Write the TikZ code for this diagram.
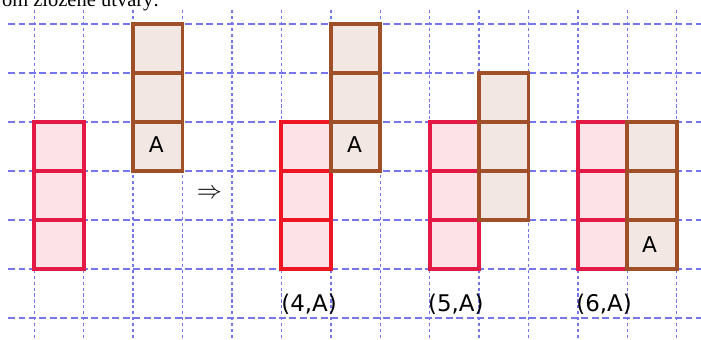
\documentclass[tikz,border=0pt]{standalone}
\usepackage{fontspec}
\setmainfont{Liberation Serif}
\newfontfamily\gridsans{DejaVu Sans}
\usepackage{xcolor}
\usepackage{tikz}
\usetikzlibrary{positioning}
\definecolor{GridBlue}{RGB}{118,118,236}
\definecolor{CellRed}{RGB}{228,26,70}
\definecolor{CellRedB}{RGB}{238,22,34}
\definecolor{CellPink}{RGB}{253,226,231}
\definecolor{CellBrown}{RGB}{160,80,40}
\definecolor{CellBeige}{RGB}{243,231,227}

\begin{document}
\begin{tikzpicture}[x=1cm, y=0.9915cm,
      hline/.style={GridBlue, line width=0.8pt, dash pattern=on 4pt off 2pt},
      vline/.style={GridBlue, line width=0.8pt, dash pattern=on 1.8pt off 1.6pt},
      redcell/.style={draw=CellRed, fill=CellPink, line width=2.2pt},
      brncell/.style={draw=CellBrown, fill=CellBeige, line width=2.2pt},
      cellmark/.style={font=\gridsans\fontsize{12.5}{14}\selectfont, inner sep=0pt},
      caption/.style={font=\gridsans\fontsize{13.2}{15}\selectfont, inner sep=0pt}
    ]
    \useasboundingbox (-0.694,-6.429) rectangle (13.49,0.49);
    \clip (-0.694,-6.429) rectangle (13.49,0.49);
    \fill[white] (-0.694,-6.429) rectangle (13.49,0.49);

    % cut-off heading
    \node[anchor=base west, inner sep=0pt, font=\fontsize{11.8}{13}\selectfont]
          (head) at (-0.66,0.35) {om zložené útvary:};

    % dashed grid
    \foreach \r in {0,...,6}
      \draw[hline] (-0.53,-\r) -- (13.6,-\r);
    \foreach \c in {0,...,13}
      \draw[vline] (\c,0.286) -- (\c,-6.5);

    % first pair
    \foreach \r in {2,3,4}
      \draw[redcell] (0,-\r) rectangle ++(1,-1);
    \foreach \r in {0,1,2}
      \draw[brncell] (2,-\r) rectangle ++(1,-1);
    \node[cellmark] (a1) at (2.47,-2.46) {A};
    \node[inner sep=0pt, font=\fontsize{13.5}{14}\selectfont] (imp) at (3.545,-3.47) {$\Rightarrow$};

    % (4,A)
    \foreach \r in {2,3,4}
      \draw[redcell, draw=CellRedB] (5,-\r) rectangle ++(1,-1);
    \foreach \r in {0,1,2}
      \draw[brncell] (6,-\r) rectangle ++(1,-1);
    \node[cellmark] (a4) at (6.48,-2.46) {A};
    \node[caption] (lab4) at (5.56,-5.73) {(4,A)};

    % (5,A)
    \foreach \r in {2,3,4}
      \draw[redcell] (8,-\r) rectangle ++(1,-1);
    \foreach \r in {1,2,3}
      \draw[brncell] (9,-\r) rectangle ++(1,-1);
    \node[caption] (lab5) at (8.53,-5.73) {(5,A)};

    % (6,A)
    \foreach \r in {2,3,4}
      \draw[redcell] (11,-\r) rectangle ++(1,-1);
    \foreach \r in {2,3,4}
      \draw[brncell] (12,-\r) rectangle ++(1,-1);
    \node[cellmark] (a6) at (12.45,-4.5) {A};
    \node[caption] (lab6) at (11.53,-5.73) {(6,A)};
  \end{tikzpicture}
\end{document}
